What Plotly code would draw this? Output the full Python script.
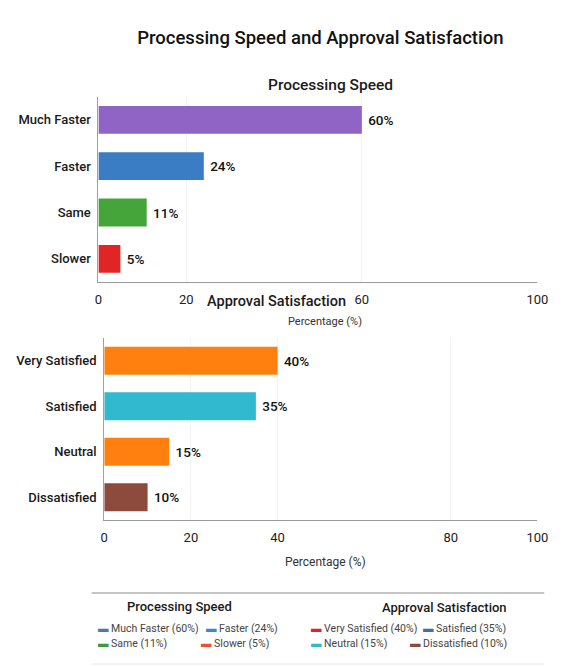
import plotly.graph_objects as go

# ---------------- data ----------------
TITLE = "Processing Speed and Approval Satisfaction"
SPEED_TITLE = "Processing Speed"
SAT_TITLE = "Approval Satisfaction"
X_TITLE = "Percentage (%)"

SPEED_CATEGORIES = ["Much Faster", "Faster", "Same", "Slower"]
SPEED_VALUES = [60, 24, 11, 5]
SPEED_COLORS = ["#9064c4", "#3a7dc4", "#46a53a", "#e22424"]

SAT_CATEGORIES = ["Very Satisfied", "Satisfied", "Neutral", "Dissatisfied"]
SAT_VALUES = [40, 35, 15, 10]
SAT_COLORS = ["#ff800e", "#30b9cf", "#ff800e", "#8c4b3c"]

SPEED_LEGEND_COLORS = ["#4a78b0", "#3d88c8", "#3c9a3c", "#e8503a"]
SAT_LEGEND_COLORS = ["#e4202a", "#3a70b5", "#30b8d0", "#8c4b3c"]

TOP_TICKS = [0, 20, 60, 100]
BOTTOM_TICKS = [0, 20, 40, 80, 100]

# ---------------- layout helpers ----------------
W, H = 565, 667
FONT = "Roboto, Liberation Sans, Arial, sans-serif"


def px(x):
    return x / W


def py(y):
    return 1 - y / H


fig = go.Figure()

fig.add_trace(go.Bar(
    y=SPEED_CATEGORIES, x=SPEED_VALUES, orientation="h",
    marker=dict(color=SPEED_COLORS, line=dict(width=0)),
    width=0.6,
    texttemplate="\u00a0%{x}%", textposition="outside", cliponaxis=False,
    textfont=dict(size=13.5, color="#111111", family=FONT, weight=500),
    xaxis="x", yaxis="y", showlegend=False, hoverinfo="x+y",
))

fig.add_trace(go.Bar(
    y=SAT_CATEGORIES, x=SAT_VALUES, orientation="h",
    marker=dict(color=SAT_COLORS, line=dict(width=0)),
    width=0.62,
    texttemplate="\u00a0%{x}%", textposition="outside", cliponaxis=False,
    textfont=dict(size=13.5, color="#111111", family=FONT, weight=500),
    xaxis="x2", yaxis="y2", showlegend=False, hoverinfo="x+y",
))

xcommon = dict(
    range=[0, 100], showline=True, linecolor="#9a9a9a", linewidth=1,
    showgrid=True, gridcolor="#f3f3f3", zeroline=False, ticks="",
    tickfont=dict(size=13, color="#222222", family=FONT),
    ticklabelstandoff=5, fixedrange=True,
)
ycommon = dict(
    autorange="reversed", showline=True, linecolor="#a0a0a0", linewidth=1,
    showgrid=False, ticks="", zeroline=False,
    tickfont=dict(size=13, color="#1a1a1a", family=FONT, weight=500),
    ticklabelstandoff=4, fixedrange=True,
)

annotations = [
    dict(text=SPEED_TITLE, x=px(335), y=py(85), font=dict(size=15.5, color="#1a1a1a", weight=500)),
    dict(text=SAT_TITLE, x=px(280), y=py(301), font=dict(size=14.5, color="#1a1a1a", weight=500)),
    dict(text=X_TITLE, x=px(330), y=py(321), font=dict(size=11, color="#333333")),
    dict(text=X_TITLE, x=px(330), y=py(562), font=dict(size=12, color="#333333")),
    dict(text=SPEED_TITLE, x=px(180), y=py(606), font=dict(size=13, color="#1a1a1a", weight=500)),
    dict(text=SAT_TITLE, x=px(453), y=py(607), font=dict(size=13, color="#1a1a1a", weight=500)),
]
for a in annotations:
    a.update(xref="paper", yref="paper", showarrow=False, xanchor="center", yanchor="middle")
    a["font"]["family"] = FONT

# legend entries (built from the data arrays)
legend_pos_speed = [(94, 628), (205, 628), (94, 643), (200, 643)]
legend_pos_sat = [(313, 628), (428, 628), (313, 643), (415, 643)]
for cats, vals, cols, pos in [
    (SPEED_CATEGORIES, SPEED_VALUES, SPEED_LEGEND_COLORS, legend_pos_speed),
    (SAT_CATEGORIES, SAT_VALUES, SAT_LEGEND_COLORS, legend_pos_sat),
]:
    for c, v, col, (lx, ly) in zip(cats, vals, cols, pos):
        annotations.append(dict(
            text=f'<span style="color:{col}">\u25ac</span> {c} ({v}%)',
            x=px(lx), y=py(ly), xref="paper", yref="paper", showarrow=False,
            xanchor="left", yanchor="middle",
            font=dict(size=10.5, color="#444444", family=FONT),
        ))

shapes = [
    dict(type="line", xref="paper", yref="paper", x0=px(90), x1=px(555), y0=py(593), y1=py(593),
         line=dict(color="#8a8a8a", width=1)),
    dict(type="line", xref="paper", yref="paper", x0=px(90), x1=px(555), y0=py(664), y1=py(664),
         line=dict(color="#e6e6e6", width=1)),
]

fig.update_layout(
    width=W, height=H,
    margin=dict(l=0, r=0, t=0, b=0),
    paper_bgcolor="white", plot_bgcolor="white",
    font=dict(family=FONT, color="#222222"),
    title=dict(text=TITLE, x=px(325), xanchor="center", xref="paper",
               y=py(38), yref="container", yanchor="middle",
               font=dict(size=18.5, color="#111111", family=FONT, weight=500)),
    xaxis=dict(domain=[px(97), px(548)], anchor="y", tickvals=TOP_TICKS, **xcommon),
    yaxis=dict(domain=[py(282), py(96.7)], anchor="x", **ycommon),
    xaxis2=dict(domain=[px(103), px(548)], anchor="y2", tickvals=BOTTOM_TICKS, **xcommon),
    yaxis2=dict(domain=[py(520), py(338)], anchor="x2", **ycommon),
    bargap=0.4,
    annotations=annotations,
    shapes=shapes,
    showlegend=False,
)

fig.write_html("out.html")
